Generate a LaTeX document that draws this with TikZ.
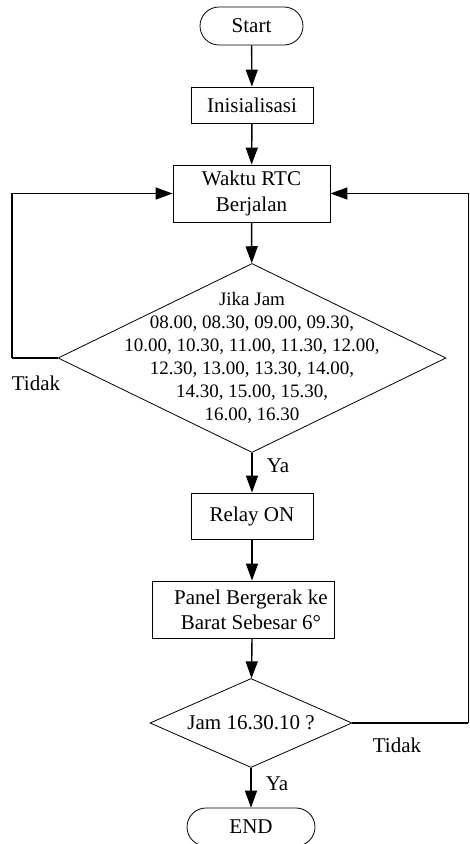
\documentclass[tikz,border=0pt]{standalone}
\usepackage{fontspec}
\setmainfont{Liberation Serif}
\usetikzlibrary{arrows.meta,shapes.geometric,shapes.misc}
\tikzset{
  terminal/.style={draw, rounded rectangle, line width=0.8pt, minimum height=38pt, inner sep=2pt},
  proses/.style={draw, rectangle, line width=0.8pt, align=center, inner sep=2pt},
  keputusan/.style={draw, diamond, line width=0.8pt, inner sep=0pt, shape aspect=2.2},
  alur/.style={line width=1.4pt, -{Triangle[length=17pt,width=12pt]}},
  garis/.style={line width=1.4pt}
}
\begin{document}
\begin{tikzpicture}[x=1pt, y=-1pt, font=\fontsize{21}{25.2}\selectfont]
    \useasboundingbox (0,0) rectangle (469,844);
    % simbol
    \node[terminal, minimum width=107pt] (mulai) at (251.5,26) {Start};
    \node[proses, minimum width=122pt, minimum height=36pt] (init) at (252,105) {Inisialisasi};
    \node[proses, minimum width=157pt, minimum height=57pt] (rtc) at (251.5,193.5) {Waktu RTC\\Berjalan};
    \node[keputusan, minimum width=388pt, minimum height=189pt,
          label={[align=center, font=\fontsize{19}{23}\selectfont]center:Jika Jam\\08.00, 08.30, 09.00, 09.30,\\10.00, 10.30, 11.00, 11.30, 12.00,\\12.30, 13.00, 13.30, 14.00,\\14.30, 15.00, 15.30,\\16.00, 16.30}] (cekjam) at (252,358) {};
    \node[proses, minimum width=122pt, minimum height=46pt] (relay) at (252,516) {Relay ON};
    \node[proses, minimum width=182pt, minimum height=57pt] (gerak) at (243,609.5) {\hspace*{16pt}Panel Bergerak ke\\\hspace*{16pt}Barat Sebesar 6°};
    \node[keputusan, minimum width=202pt, minimum height=89pt] (cekakhir) at (251,723) {Jam 16.30.10 ?};
    \node[terminal, minimum width=132pt] (selesai) at (251,827) {END};
    % label cabang
    \node (tidakA) at (36,383) {Tidak};
    \node (yaA) at (278,466) {Ya};
    \node (tidakB) at (397,745) {Tidak};
    \node (yaB) at (277,784) {Ya};
    % alur utama
    \draw[alur] (mulai) -- (init);
    \draw[alur] (init) -- (rtc);
    \draw[alur] (rtc) -- (cekjam);
    \draw[alur] (cekjam) -- (relay);
    \draw[alur] (relay) -- (relay |- gerak.north);
    \draw[alur] (relay |- gerak.south) -- (cekakhir);
    \draw[alur] (cekakhir) -- (selesai);
    % umpan balik
    \coordinate (kiri) at (12,358);
    \coordinate (kanan) at (468.3,723);
    \draw[garis] (cekjam.west) -- (kiri);
    \draw[alur] (kiri) |- (rtc.west);
    \draw[garis] (cekakhir.east) -- (kanan);
    \draw[alur] (kanan) |- (rtc.east);
\end{tikzpicture}
\end{document}
